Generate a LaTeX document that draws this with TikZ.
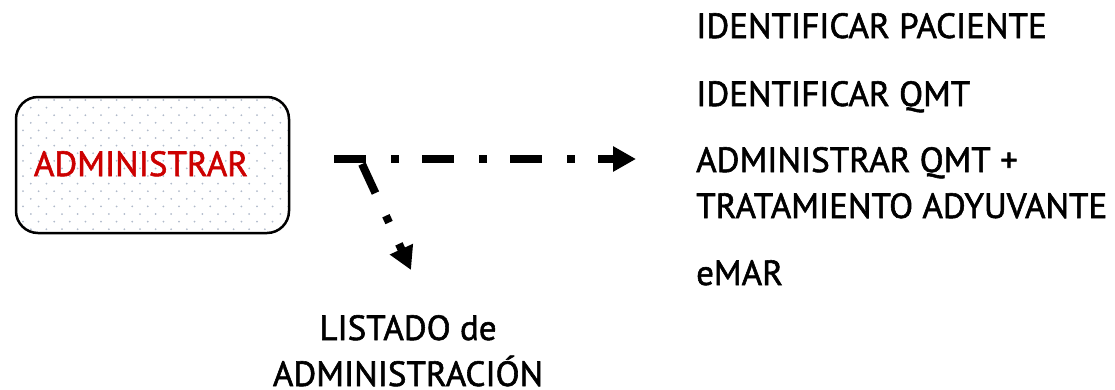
\documentclass[tikz,border=0pt]{standalone}
\usepackage{fontspec}
\setmainfont{PT Sans}[FakeBold=1.6]
\usepackage{tikz}
\usetikzlibrary{arrows.meta}

\definecolor{admred}{RGB}{204,0,0}
\definecolor{dotgray}{RGB}{176,186,202}

\begin{document}
\begin{tikzpicture}
  [x=1pt,y=-1pt,every node/.style={inner sep=0pt,font=\fontsize{35}{46}\selectfont}]

  \tikzstyle{flow} = [line width=8pt, dash pattern=on 32pt off 25pt on 7.5pt off 23.5pt,
                      -{Triangle[length=23pt,width=24pt]}]
  \tikzstyle{task} = [anchor=base west, align=left]

  \useasboundingbox (0,0) rectangle (1115,389);

  % dotted fill of the box
  \begin{scope}
    \clip[rounded corners=22pt] (16,97) rectangle (289,233);
    \foreach \r in {0,...,18}
      \foreach \c in {0,...,18}
        \fill[dotgray] ({23+15.6*\c+7.8*mod(\r,2)},{100+7.6*\r}) circle (1pt);
  \end{scope}

  \node[draw, line width=2.5pt, rounded corners=22pt, minimum width=273pt,
        minimum height=136pt] (admin) at (152.5,165) {};
  \node[anchor=base, text=admred] (admtext) at (141,176) {ADMINISTRAR};

  \coordinate (start) at (334,159);
  \coordinate (tgt)   at (636,159);
  \coordinate (split) at (362,164);
  \coordinate (tip)   at (411,270);

  \node[task] (patient) at (696,38)  {IDENTIFICAR PACIENTE};
  \node[task] (qmt)     at (696,106) {IDENTIFICAR QMT};
  \node[task] (give)    at (696,218) {ADMINISTRAR QMT +\\TRATAMIENTO ADYUVANTE};
  \node[task] (emar)    at (696,285) {eMAR};

  \node[anchor=base, align=center] (list) at (408,386) {LISTADO de\\ADMINISTRACIÓN};

  \draw[flow] (start) -- (tgt);
  \draw[flow] (split) -- (tip);
\end{tikzpicture}
\end{document}
